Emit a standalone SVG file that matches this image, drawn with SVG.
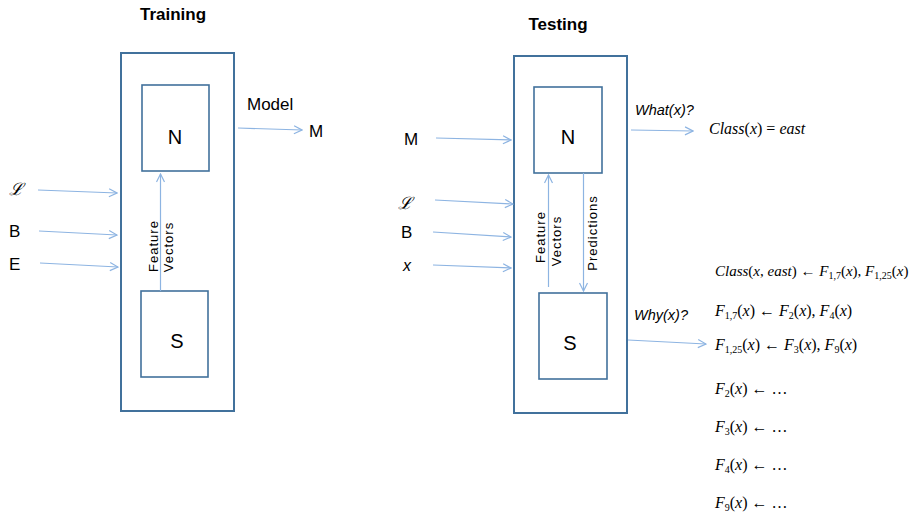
<svg xmlns="http://www.w3.org/2000/svg" width="912" height="516" viewBox="0 0 912 516">
<style>
.box{fill:#fff;stroke:#41719C;stroke-width:2}
.inner{fill:#fff;stroke:#41719C;stroke-width:1.6}
.c{stroke:#8DB4E2;stroke-width:1.2;fill:none;marker-end:url(#ah)}
.t{font-family:"Liberation Sans",Arial,sans-serif;fill:#000}
.ti{font-family:"Liberation Sans",Arial,sans-serif;font-weight:bold;font-size:17px;text-anchor:middle}
.big{font-size:20px;text-anchor:middle}
.lab{font-size:17px}
.rot{font-size:13px;letter-spacing:1px;text-anchor:middle}
.m{font-family:"Liberation Serif","Times New Roman",serif;font-style:italic;font-size:16px;fill:#000}
.it{font-family:"Liberation Sans",Arial,sans-serif;font-style:italic;font-size:14.5px}
.scr{font-family:"DejaVu Serif",serif;font-style:italic;font-size:17px}
</style>
<defs>
<marker id="ah" viewBox="0 0 10 10" refX="9" refY="5" markerWidth="10" markerHeight="10" markerUnits="userSpaceOnUse" orient="auto">
<path d="M1,1 L9,5 L1,9" fill="none" stroke="#8DB4E2" stroke-width="1.2"/>
</marker>
</defs>
<rect width="912" height="516" fill="#fff"/>

<text class="t ti" x="173" y="20">Training</text>
<text class="t ti" x="558" y="30">Testing</text>

<g id="training">
<rect class="box" x="121" y="53" width="113" height="358"/>
</g>
<g id="trainN">
<rect class="inner" x="142" y="85" width="67" height="86"/>
<text class="t big" x="175" y="144">N</text>
</g>
<g id="trainS">
<rect class="inner" x="141" y="291" width="67" height="86"/>
<text class="t big" x="177" y="348">S</text>
</g>

<g id="testing">
<rect class="box" x="514" y="56" width="113" height="357"/>
</g>
<g id="testN">
<rect class="inner" x="534" y="87" width="68" height="86"/>
<text class="t big" x="568" y="144">N</text>
</g>
<g id="testS">
<rect class="inner" x="539" y="293" width="68" height="86"/>
<text class="t big" x="570" y="350">S</text>
</g>

<g id="connectors">
<line class="c" x1="160.5" y1="291" x2="160.5" y2="174"/>
<line class="c" x1="238" y1="128" x2="302" y2="130"/>
<line class="c" x1="38" y1="190" x2="117" y2="193"/>
<line class="c" x1="39" y1="231" x2="117" y2="235"/>
<line class="c" x1="40" y1="263" x2="118" y2="267"/>
<line class="c" x1="436" y1="138" x2="511" y2="140"/>
<line class="c" x1="435" y1="200" x2="513" y2="204"/>
<line class="c" x1="433" y1="232" x2="511" y2="237"/>
<line class="c" x1="433" y1="265" x2="511" y2="268"/>
<line class="c" x1="548.5" y1="287" x2="548.5" y2="175"/>
<line class="c" x1="583.5" y1="173" x2="583.5" y2="291"/>
<line class="c" x1="631" y1="130" x2="693" y2="131"/>
<line class="c" x1="628" y1="340" x2="706" y2="344"/>
</g>

<g id="labels">
<text class="t rot" transform="translate(158,246) rotate(-90)">Feature</text>
<text class="t rot" transform="translate(173,247) rotate(-90)">Vectors</text>
<text class="t rot" transform="translate(545,237) rotate(-90)">Feature</text>
<text class="t rot" transform="translate(561,241) rotate(-90)">Vectors</text>
<text class="t rot" transform="translate(597,233) rotate(-90)">Predictions</text>

<text class="t lab" x="247" y="110">Model</text>
<text class="t lab" x="309" y="137">M</text>
<text class="scr" x="9" y="195">ℒ</text>
<text class="t lab" x="9" y="237">B</text>
<text class="t lab" x="9" y="270">E</text>

<text class="t lab" x="404" y="145">M</text>
<text class="scr" x="398" y="209">ℒ</text>
<text class="t lab" x="401" y="238">B</text>
<text class="t" x="403" y="271" font-style="italic" font-size="16">x</text>

<text class="t it" x="635" y="115">What(x)?</text>
<text class="t it" x="634" y="320">Why(x)?</text>

<text class="m" x="709" y="134">Class<tspan font-style="normal">(</tspan>x<tspan font-style="normal">) = </tspan>east</text>
<text class="m" x="715" y="276" style="font-size:15px">Class<tspan font-style="normal">(</tspan>x<tspan font-style="normal">, </tspan>east<tspan font-style="normal">) ← </tspan>F<tspan font-style="normal" font-size="10" dy="3">1,7</tspan><tspan font-style="normal" dy="-3">(</tspan>x<tspan font-style="normal">), </tspan>F<tspan font-style="normal" font-size="10" dy="3">1,25</tspan><tspan font-style="normal" dy="-3">(</tspan>x<tspan font-style="normal">)</tspan></text>
<text class="m" x="715" y="316">F<tspan font-style="normal" font-size="10" dy="3">1,7</tspan><tspan font-style="normal" dy="-3">(</tspan>x<tspan font-style="normal">) ← </tspan>F<tspan font-style="normal" font-size="10" dy="3">2</tspan><tspan font-style="normal" dy="-3">(</tspan>x<tspan font-style="normal">), </tspan>F<tspan font-style="normal" font-size="10" dy="3">4</tspan><tspan font-style="normal" dy="-3">(</tspan>x<tspan font-style="normal">)</tspan></text>
<text class="m" x="715" y="350">F<tspan font-style="normal" font-size="10" dy="3">1,25</tspan><tspan font-style="normal" dy="-3">(</tspan>x<tspan font-style="normal">) ← </tspan>F<tspan font-style="normal" font-size="10" dy="3">3</tspan><tspan font-style="normal" dy="-3">(</tspan>x<tspan font-style="normal">), </tspan>F<tspan font-style="normal" font-size="10" dy="3">9</tspan><tspan font-style="normal" dy="-3">(</tspan>x<tspan font-style="normal">)</tspan></text>
<text class="m" x="715" y="394">F<tspan font-style="normal" font-size="10" dy="3">2</tspan><tspan font-style="normal" dy="-3">(</tspan>x<tspan font-style="normal">) ←  …</tspan></text>
<text class="m" x="715" y="432">F<tspan font-style="normal" font-size="10" dy="3">3</tspan><tspan font-style="normal" dy="-3">(</tspan>x<tspan font-style="normal">) ←  …</tspan></text>
<text class="m" x="715" y="470">F<tspan font-style="normal" font-size="10" dy="3">4</tspan><tspan font-style="normal" dy="-3">(</tspan>x<tspan font-style="normal">) ←  …</tspan></text>
<text class="m" x="715" y="508">F<tspan font-style="normal" font-size="10" dy="3">9</tspan><tspan font-style="normal" dy="-3">(</tspan>x<tspan font-style="normal">) ←  …</tspan></text>
</g>
</svg>
